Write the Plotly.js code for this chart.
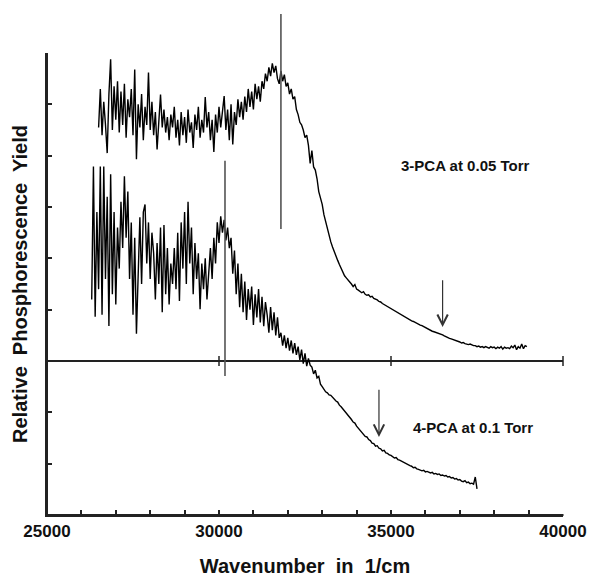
<!DOCTYPE html>
<html>
<head>
<meta charset="utf-8">
<script src="https://cdn.plot.ly/plotly-3.0.1.min.js"></script>
<style>html,body{margin:0;padding:0;background:#fff;}#chart{width:590px;height:577px;}</style>
</head>
<body>
<div id="chart"></div>
<script>
// ---- Data ----
// Wavenumber grid: first sample and sampling step (cm^-1)
const pca3Start = 26500;
const pca4Start = 26300;
const sampleStep = 50;

// 3-PCA at 0.05 Torr (relative phosphorescence yield, offset baseline)
const pca3Yield = [
  4.55,5.30,4.40,5.05,4.60,4.05,5.20,5.88,4.50,5.35,4.70,
  5.45,4.45,5.25,4.60,5.40,4.35,5.10,4.75,5.30,4.40,5.68,3.93,5.00,4.55,5.20,4.30,4.95,4.60,5.62,
  4.50,5.05,4.40,4.85,4.12,4.75,5.19,4.55,4.90,4.45,4.75,4.30,4.80,4.55,4.95,4.35,4.70,4.20,4.85,4.40,
  4.75,4.25,4.90,4.45,4.65,4.15,4.80,4.50,4.95,4.35,4.70,4.45,5.14,4.55,4.85,4.30,4.70,
  4.07,4.80,4.45,4.95,4.55,4.85,5.16,4.50,4.90,4.30,5.00,4.22,4.85,4.60,5.10,4.75,
  5.05,4.70,5.15,4.85,5.30,4.95,5.25,4.90,5.40,5.10,5.35,5.05,5.45,5.30,
  5.60,5.45,5.72,5.55,5.80,5.62,5.75,5.50,
  5.40,5.65,5.45,5.58,5.35,5.42,5.20,5.30,5.10,5.15,4.90,
  4.80,4.65,4.60,4.50,4.35,4.40,4.20,3.85,4.10,3.78,3.72,3.55,3.30,3.18,3.05,
  2.85,2.72,2.58,2.42,2.32,2.22,2.12,2.06,1.96,1.88,1.80,1.72,1.66,1.62,1.57,1.54,
  1.50,1.45,1.49,1.40,1.38,1.36,1.33,1.35,1.30,1.28,1.29,1.25,1.26,1.22,1.21,1.19,1.16,1.15,1.12,1.10,1.08,1.06,
  1.04,1.01,1.00,0.97,0.95,0.93,0.91,0.90,0.87,0.86,0.83,0.82,0.80,0.78,0.77,0.75,0.74,0.72,0.70,0.69,0.67,0.65,0.64,0.62,0.60,0.58,
  0.57,0.56,0.54,0.53,0.52,0.51,0.49,0.47,0.46,0.44,0.43,0.42,0.40,0.39,0.38,0.37,0.35,0.36,0.34,0.33,0.32,0.33,0.31,0.30,
  0.30,0.28,0.29,0.27,0.28,0.26,0.28,0.27,0.25,0.28,0.26,0.27,0.24,0.27,0.25,0.28,0.23,0.27,0.25,0.26,0.24,0.29,0.26,0.31,0.22,0.28,0.25,0.33,0.24,0.30,0.28
];

// 4-PCA at 0.1 Torr
const pca4Yield = [
  1.20,3.79,0.86,2.90,1.40,3.79,0.90,3.79,1.60,3.20,0.68,3.64,
  1.30,2.90,1.10,2.60,
  1.80,3.10,2.20,3.60,2.40,3.30,
  1.60,2.70,0.90,2.40,0.53,1.70,
  2.80,1.50,2.90,3.05,1.90,2.70,1.60,2.50,2.10,
  1.20,2.30,1.50,2.60,0.95,2.65,1.30,2.20,1.10,1.90,1.50,2.20,
  1.40,2.50,1.17,2.70,1.80,2.90,1.50,3.10,1.90,2.60,
  1.30,2.30,1.60,2.10,1.01,1.90,1.40,2.00,1.20,1.80,2.20,
  1.60,2.40,1.90,2.70,2.30,2.82,2.50,2.75,2.35,2.60,2.20,
  2.40,1.70,2.15,1.30,1.90,1.05,1.70,
  0.95,1.55,0.80,1.40,1.00,1.45,0.70,1.30,0.85,1.40,0.75,1.25,0.68,1.15,0.90,
  0.55,1.05,0.60,0.95,0.50,0.85,0.45,
  0.55,0.30,0.50,0.25,0.45,0.20,0.40,0.15,0.35,0.12,
  0.28,0.02,0.22,-0.05,0.15,-0.10,0.05,-0.08,
  -0.12,-0.25,-0.18,-0.33,-0.30,-0.45,-0.50,-0.55,-0.60,
  -0.62,-0.66,-0.67,-0.71,-0.74,-0.78,-0.80,-0.86,-0.89,-0.93,-0.97,-1.00,-1.06,-1.08,-1.14,-1.19,-1.21,-1.27,-1.31,-1.35,-1.40,
  -1.42,-1.47,-1.48,-1.53,-1.55,-1.60,-1.61,-1.66,-1.65,-1.70,-1.71,-1.75,-1.74,-1.79,-1.80,-1.83,-1.84,-1.86,-1.89,-1.88,-1.92,
  -1.93,-1.95,-1.97,-1.99,-2.00,-2.03,-2.04,-2.05,-2.08,-2.07,-2.10,-2.11,-2.12,-2.14,-2.13,-2.16,-2.15,-2.17,-2.18,-2.17,
  -2.20,-2.19,-2.21,-2.20,-2.23,-2.22,-2.24,-2.23,-2.26,-2.25,-2.28,-2.27,-2.30,-2.29,-2.32,-2.31,-2.34,-2.35,-2.33,-2.37,
  -2.36,-2.39,-2.38,-2.40,-2.26,-2.49
];

// Vertical origin markers: wavenumber, bottom, top
const originX = [31800, 30174];
const originLow = [2.57, -0.29];
const originHigh = [6.79, 3.93];

// Down arrows: wavenumber, tip, tail
const arrowX = [36500, 34650];
const arrowTip = [0.66, -1.48];
const arrowTail = [1.60, -0.53];

// Series labels and their anchor positions
const seriesLabels = ['3-PCA at 0.05 Torr', '4-PCA at 0.1 Torr'];
const labelX = [37180, 37384];
const labelY = [3.81, -1.30];

// Axis ranges, tick values / labels, and the small crossing ticks on the zero line
const xRange = [25000, 40000];
const yRange = [-3, 6];
const xTickVals = [25000,26000,27000,28000,29000,30000,31000,32000,33000,34000,35000,36000,37000,38000,39000,40000];
const xTickText = ['25000','','','','','30000','','','','','35000','','','','','40000'];
const zeroTickX = [30000, 35000, 40000];
const zeroTickY = [0, 0, 0];

const FONT = 'Liberation Sans, Arial, Helvetica, sans-serif';
const AX = '#222';

const traces = [
  {type: 'scatter', mode: 'lines', x0: pca3Start, dx: sampleStep, y: pca3Yield,
   line: {color: '#000', width: 1.4}, hoverinfo: 'skip'},
  {type: 'scatter', mode: 'lines', x0: pca4Start, dx: sampleStep, y: pca4Yield,
   line: {color: '#000', width: 1.4}, hoverinfo: 'skip'},
  {type: 'scatter', mode: 'markers', x: zeroTickX, y: zeroTickY, cliponaxis: false,
   marker: {symbol: 'line-ns', size: 7, color: AX, line: {color: AX, width: 1.5}}, hoverinfo: 'skip'}
];

const annotations = [];
for (let i = 0; i < originX.length; i++) {
  annotations.push({xref: 'x', yref: 'y', axref: 'x', ayref: 'y',
    x: originX[i], y: originLow[i], ax: originX[i], ay: originHigh[i],
    text: '', showarrow: true, arrowhead: 0, arrowwidth: 1.6, arrowcolor: '#555', standoff: 0, startstandoff: 0});
}
for (let i = 0; i < arrowX.length; i++) {
  annotations.push({xref: 'x', yref: 'y', axref: 'x', ayref: 'y',
    x: arrowX[i], y: arrowTip[i], ax: arrowX[i], ay: arrowTail[i],
    text: '', showarrow: true, arrowhead: 5, arrowsize: 1.7, arrowwidth: 1.2, arrowcolor: '#333', standoff: 0});
}
for (let i = 0; i < seriesLabels.length; i++) {
  annotations.push({xref: 'x', yref: 'y', x: labelX[i], y: labelY[i], text: seriesLabels[i],
    showarrow: false, font: {family: FONT, size: 15, weight: 'bold', color: '#111'}});
}

// Frame lines (left and bottom edges of the plot area)
const shapes = [
  {type: 'line', xref: 'paper', yref: 'paper', x0: -0.001, x1: 1.001, y0: 0, y1: 0, layer: 'above', line: {color: AX, width: 2}},
  {type: 'line', xref: 'paper', yref: 'paper', x0: 0, x1: 0, y0: -0.001, y1: 1, layer: 'above', line: {color: AX, width: 2}}
];

const layout = {
  width: 590, height: 577,
  margin: {l: 47, r: 27, t: 53, b: 62},
  paper_bgcolor: '#fff', plot_bgcolor: '#fff',
  showlegend: false,
  font: {family: FONT, color: '#111'},
  xaxis: {
    range: xRange, tickmode: 'array', tickvals: xTickVals, ticktext: xTickText,
    ticks: 'inside', ticklen: 5, tickwidth: 1.5, tickcolor: AX,
    showline: true, linecolor: AX, linewidth: 2, showgrid: false, zeroline: false, layer: 'above traces',
    tickfont: {family: FONT, size: 17, weight: 'bold', color: '#111'},
    title: {text: 'Wavenumber\u00a0 in\u00a0 1/cm', font: {family: FONT, size: 20, weight: 'bold', color: '#111'}, standoff: 21}
  },
  yaxis: {
    range: yRange, dtick: 1, ticks: 'inside', ticklen: 5, tickwidth: 1.5, tickcolor: AX,
    showticklabels: false, showline: true, linecolor: AX, linewidth: 2, showgrid: false,
    zeroline: true, zerolinecolor: AX, zerolinewidth: 1.7,
    title: {text: 'Relative\u00a0 Phosphorescence\u00a0 Yield', font: {family: FONT, size: 20, weight: 'bold', color: '#111'}, standoff: 12}
  },
  shapes: shapes,
  annotations: annotations
};

Plotly.newPlot('chart', traces, layout, {displayModeBar: false});
</script>
</body>
</html>
